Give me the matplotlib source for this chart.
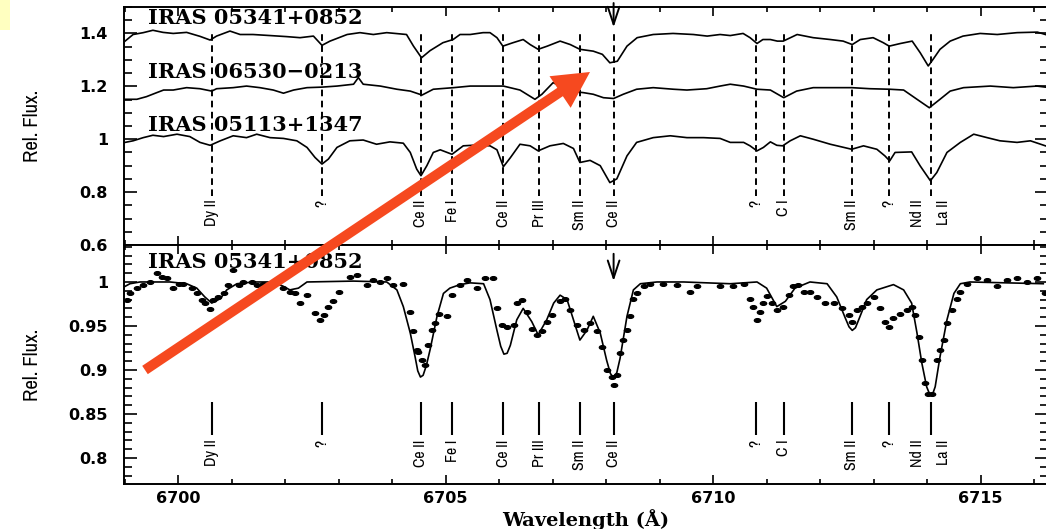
import numpy as np
import matplotlib
matplotlib.use('Agg')
import matplotlib.pyplot as plt
from matplotlib.ticker import MultipleLocator, FuncFormatter
from matplotlib.patches import FancyArrow, Rectangle
from matplotlib.path import Path
from matplotlib.markers import MarkerStyle
from matplotlib.transforms import Affine2D
from matplotlib import font_manager as fm

# ---------------- data ----------------
star_names = ["IRAS 05341+0852", "IRAS 06530\u22120213", "IRAS 05113+1347"]

wl1 = [6699.01, 6699.16, 6699.35, 6699.53, 6699.72, 6699.91, 6700.16, 6700.41, 6700.60, 6700.72,
       6700.97, 6701.16, 6701.40, 6701.72, 6702.03, 6702.28, 6702.53, 6702.69, 6702.84, 6703.16,
       6703.40, 6703.65, 6703.90, 6704.27, 6704.40, 6704.55, 6704.71, 6704.95, 6705.14, 6705.27,
       6705.46, 6705.70, 6705.83, 6705.96, 6706.07, 6706.26, 6706.45, 6706.58, 6706.73, 6706.90,
       6707.14, 6707.33, 6707.51, 6707.76, 6707.93, 6708.07, 6708.21, 6708.39, 6708.58, 6708.88,
       6709.25, 6709.63, 6709.89, 6710.13, 6710.32, 6710.56, 6710.69, 6710.82, 6710.93, 6711.07,
       6711.20, 6711.31, 6711.57, 6711.87, 6712.19, 6712.43, 6712.60, 6712.75, 6712.99, 6713.18,
       6713.29, 6713.50, 6713.72, 6713.87, 6714.02, 6714.11, 6714.24, 6714.43, 6714.67, 6714.99,
       6715.31, 6715.68, 6716.06, 6716.21]
fl1 = [1.371, 1.396, 1.403, 1.412, 1.404, 1.400, 1.404, 1.389, 1.375, 1.390,
       1.409, 1.396, 1.396, 1.392, 1.388, 1.384, 1.390, 1.355, 1.371, 1.396,
       1.403, 1.396, 1.403, 1.396, 1.352, 1.308, 1.335, 1.365, 1.377, 1.396,
       1.396, 1.403, 1.403, 1.384, 1.352, 1.365, 1.377, 1.358, 1.340, 1.352,
       1.371, 1.358, 1.340, 1.333, 1.321, 1.289, 1.295, 1.352, 1.384, 1.396,
       1.400, 1.396, 1.390, 1.396, 1.392, 1.400, 1.384, 1.362, 1.377, 1.377,
       1.371, 1.371, 1.396, 1.384, 1.377, 1.371, 1.358, 1.377, 1.384, 1.365,
       1.352, 1.362, 1.371, 1.327, 1.277, 1.302, 1.340, 1.371, 1.390, 1.400,
       1.396, 1.403, 1.405, 1.396]

wl2 = [6699.01, 6699.23, 6699.41, 6699.60, 6699.73, 6699.91, 6700.16, 6700.41, 6700.63, 6700.72,
       6701.03, 6701.28, 6701.53, 6701.78, 6701.97, 6702.16, 6702.41, 6702.69, 6702.97, 6703.28,
       6703.37, 6703.46, 6703.78, 6704.09, 6704.34, 6704.56, 6704.77, 6705.15, 6705.46, 6705.77,
       6706.08, 6706.39, 6706.67, 6706.80, 6707.01, 6707.33, 6707.58, 6707.76, 6707.95, 6708.14,
       6708.32, 6708.57, 6708.88, 6709.26, 6709.51, 6709.88, 6710.13, 6710.32, 6710.57, 6710.82,
       6711.07, 6711.32, 6711.56, 6711.87, 6712.19, 6712.59, 6712.93, 6713.30, 6713.56, 6713.81,
       6714.04, 6714.24, 6714.43, 6714.68, 6715.18, 6715.61, 6716.05, 6716.21]
fl2 = [1.151, 1.151, 1.161, 1.176, 1.186, 1.186, 1.195, 1.191, 1.182, 1.191,
       1.195, 1.201, 1.195, 1.186, 1.174, 1.186, 1.195, 1.197, 1.201, 1.208,
       1.233, 1.208, 1.201, 1.189, 1.182, 1.167, 1.189, 1.195, 1.201, 1.201,
       1.201, 1.186, 1.151, 1.170, 1.214, 1.182, 1.176, 1.170, 1.157, 1.154,
       1.170, 1.189, 1.195, 1.189, 1.186, 1.191, 1.201, 1.208, 1.201, 1.189,
       1.186, 1.157, 1.182, 1.195, 1.195, 1.195, 1.191, 1.189, 1.186, 1.151,
       1.119, 1.151, 1.182, 1.195, 1.201, 1.195, 1.201, 1.197]

wl3 = [6699.01, 6699.16, 6699.35, 6699.53, 6699.73, 6699.98, 6700.22, 6700.41, 6700.60, 6700.79,
       6701.03, 6701.28, 6701.47, 6701.72, 6701.97, 6702.22, 6702.41, 6702.56, 6702.69, 6702.81,
       6702.97, 6703.21, 6703.46, 6703.71, 6703.96, 6704.21, 6704.34, 6704.46, 6704.54, 6704.65,
       6704.77, 6704.90, 6705.12, 6705.33, 6705.58, 6705.83, 6705.96, 6706.08, 6706.21, 6706.39,
       6706.58, 6706.73, 6706.95, 6707.20, 6707.39, 6707.51, 6707.70, 6707.89, 6708.07, 6708.20,
       6708.39, 6708.57, 6708.88, 6709.20, 6709.51, 6709.82, 6710.13, 6710.32, 6710.57, 6710.69,
       6710.82, 6710.94, 6711.07, 6711.19, 6711.30, 6711.44, 6711.63, 6711.87, 6712.19, 6712.59,
       6712.81, 6713.06, 6713.21, 6713.30, 6713.40, 6713.71, 6713.87, 6714.06, 6714.18, 6714.37,
       6714.62, 6714.87, 6715.12, 6715.36, 6715.68, 6715.93, 6716.21]
fl3 = [0.988, 0.994, 1.006, 1.015, 1.010, 1.019, 1.010, 0.988, 0.977, 0.994,
       1.013, 1.006, 1.019, 1.006, 1.003, 0.994, 0.969, 0.931, 0.906, 0.925,
       0.969, 0.994, 0.997, 0.981, 0.990, 0.985, 0.950, 0.887, 0.862, 0.900,
       0.950, 0.960, 0.943, 0.975, 0.978, 0.975, 0.960, 0.896, 0.930, 0.981,
       0.975, 0.956, 0.975, 0.984, 0.965, 0.912, 0.920, 0.900, 0.836, 0.850,
       0.937, 0.988, 1.006, 1.013, 1.006, 1.006, 1.003, 0.988, 0.988, 0.975,
       0.956, 0.969, 0.990, 0.977, 0.975, 0.994, 1.013, 1.000, 0.981, 0.962,
       0.975, 0.962, 0.937, 0.918, 0.950, 0.952, 0.899, 0.843, 0.874, 0.950,
       0.988, 1.019, 1.006, 0.994, 0.988, 0.994, 0.975]

obs_wl = [6699.04, 6699.10, 6699.23, 6699.35, 6699.48, 6699.60, 6699.70, 6699.79, 6699.91, 6700.01,
          6700.10, 6700.26, 6700.35, 6700.44, 6700.50, 6700.60, 6700.66, 6700.75, 6700.85, 6700.94,
          6701.03, 6701.13, 6701.22, 6701.38, 6701.47, 6701.59, 6701.78, 6701.97, 6702.09, 6702.19,
          6702.28, 6702.41, 6702.56, 6702.65, 6702.72, 6702.81, 6702.90, 6703.00, 6703.21, 6703.34,
          6703.53, 6703.65, 6703.78, 6703.90, 6704.02, 6704.21, 6704.34, 6704.40, 6704.46, 6704.49,
          6704.56, 6704.62, 6704.68, 6704.74, 6704.80, 6704.87, 6705.02, 6705.12, 6705.27, 6705.40,
          6705.58, 6705.74, 6705.89, 6705.96, 6706.05, 6706.14, 6706.27, 6706.33, 6706.42, 6706.52,
          6706.61, 6706.70, 6706.80, 6706.89, 6706.99, 6707.14, 6707.23, 6707.33, 6707.45, 6707.58,
          6707.70, 6707.83, 6707.92, 6708.01, 6708.11, 6708.14, 6708.20, 6708.26, 6708.32, 6708.39,
          6708.45, 6708.51, 6708.57, 6708.70, 6708.82, 6709.07, 6709.32, 6709.57, 6709.70, 6710.13,
          6710.38, 6710.57, 6710.69, 6710.75, 6710.82, 6710.88, 6710.94, 6711.00, 6711.10, 6711.19,
          6711.31, 6711.41, 6711.50, 6711.59, 6711.69, 6711.81, 6711.94, 6712.09, 6712.25, 6712.41,
          6712.53, 6712.59, 6712.69, 6712.78, 6712.87, 6713.00, 6713.12, 6713.22, 6713.28, 6713.37,
          6713.50, 6713.62, 6713.71, 6713.78, 6713.84, 6713.90, 6713.96, 6714.02, 6714.09, 6714.18,
          6714.24, 6714.31, 6714.37, 6714.46, 6714.56, 6714.62, 6714.74, 6714.93, 6715.12, 6715.30,
          6715.49, 6715.68, 6715.86, 6716.05, 6716.21]
obs_fl = [0.980, 0.987, 0.993, 0.997, 1.000, 1.010, 1.006, 1.004, 0.993, 0.998,
          0.998, 0.993, 0.987, 0.980, 0.976, 0.969, 0.980, 0.983, 0.987, 0.997,
          1.014, 0.997, 1.000, 1.000, 0.997, 0.998, 0.998, 0.993, 0.989, 0.987,
          0.976, 0.985, 0.965, 0.957, 0.963, 0.972, 0.978, 0.989, 1.006, 1.008,
          0.997, 1.002, 1.000, 1.004, 0.997, 0.998, 0.966, 0.944, 0.923, 0.921,
          0.911, 0.906, 0.928, 0.945, 0.953, 0.964, 0.961, 0.985, 0.997, 1.002,
          0.993, 1.004, 1.004, 0.970, 0.951, 0.949, 0.951, 0.976, 0.980, 0.966,
          0.947, 0.940, 0.944, 0.955, 0.963, 0.978, 0.981, 0.968, 0.951, 0.945,
          0.953, 0.944, 0.926, 0.900, 0.892, 0.883, 0.894, 0.919, 0.934, 0.945,
          0.961, 0.981, 0.987, 0.995, 0.998, 0.998, 0.997, 0.989, 0.995, 0.995,
          0.995, 0.998, 0.981, 0.972, 0.957, 0.966, 0.976, 0.984, 0.976, 0.968,
          0.972, 0.985, 0.995, 0.997, 0.989, 0.989, 0.983, 0.976, 0.976, 0.970,
          0.963, 0.955, 0.968, 0.972, 0.976, 0.983, 0.970, 0.955, 0.949, 0.959,
          0.964, 0.968, 0.972, 0.963, 0.938, 0.911, 0.885, 0.873, 0.873, 0.911,
          0.923, 0.934, 0.953, 0.968, 0.981, 0.989, 0.998, 1.004, 1.002, 0.995,
          1.002, 1.004, 1.000, 1.004, 0.987]

syn_wl = [6699.01, 6699.10, 6699.29, 6699.85, 6700.16, 6700.35, 6700.50, 6700.63, 6700.79, 6700.91,
          6701.10, 6701.41, 6701.78, 6701.97, 6702.09, 6702.25, 6702.41, 6703.28, 6703.90, 6704.09,
          6704.21, 6704.34, 6704.43, 6704.48, 6704.53, 6704.58, 6704.64, 6704.71, 6704.84, 6704.96,
          6705.08, 6705.27, 6705.46, 6705.71, 6705.83, 6705.96, 6706.03, 6706.09, 6706.15, 6706.21,
          6706.33, 6706.45, 6706.61, 6706.73, 6706.89, 6707.02, 6707.14, 6707.27, 6707.39, 6707.51,
          6707.64, 6707.76, 6707.89, 6708.01, 6708.08, 6708.14, 6708.20, 6708.26, 6708.39, 6708.51,
          6708.64, 6708.95, 6709.45, 6710.32, 6710.82, 6711.00, 6711.19, 6711.35, 6711.53, 6711.81,
          6712.13, 6712.31, 6712.47, 6712.54, 6712.60, 6712.66, 6712.72, 6712.87, 6713.06, 6713.37,
          6713.56, 6713.71, 6713.81, 6713.90, 6713.99, 6714.03, 6714.07, 6714.11, 6714.15, 6714.24,
          6714.37, 6714.50, 6714.62, 6714.80, 6716.17]
syn_fl = [0.995, 0.998, 1.000, 1.000, 0.998, 0.993, 0.983, 0.976, 0.981, 0.991,
          0.998, 1.000, 1.000, 0.995, 0.991, 0.993, 1.000, 1.001, 1.000, 0.991,
          0.972, 0.942, 0.915, 0.899, 0.892, 0.894, 0.905, 0.923, 0.961, 0.987,
          0.993, 0.997, 0.999, 0.998, 0.980, 0.945, 0.927, 0.918, 0.919, 0.928,
          0.957, 0.970, 0.955, 0.940, 0.957, 0.976, 0.985, 0.980, 0.957, 0.934,
          0.945, 0.961, 0.942, 0.911, 0.896, 0.891, 0.897, 0.913, 0.961, 0.991,
          0.998, 1.000, 1.000, 0.998, 1.000, 0.993, 0.972, 0.978, 0.993, 1.000,
          0.998, 0.983, 0.959, 0.949, 0.945, 0.948, 0.957, 0.980, 0.991, 0.997,
          0.991, 0.976, 0.942, 0.908, 0.881, 0.875, 0.872, 0.874, 0.881, 0.915,
          0.957, 0.987, 0.998, 1.000, 0.998]

line_wl = [6700.63, 6702.69, 6704.54, 6705.12, 6706.08, 6706.75, 6707.51, 6708.14,
           6710.80, 6711.32, 6712.59, 6713.29, 6714.07]
line_labels = [["Dy II"], ["?"], ["Ce II"], ["Fe I"], ["Ce II"], ["Pr III"], ["Sm II"], ["Ce II"],
               ["?"], ["C I"], ["Sm II"], ["?"], ["Nd II", "La II"]]
marked_wl = 6708.14


# ---------------- fonts ----------------
def narrow_font(size):
    best = None
    prefs = [('narrow', None), ('condensed', 'semi-condensed'), ('semi-condensed', None)]
    for f in fm.fontManager.ttflist:
        nm = f.name.lower()
        st = str(f.stretch).lower()
        fn = f.fname.lower()
        if f.weight not in (400, 'normal', 'regular', 'book') or f.style != 'normal':
            continue
        rank = None
        if 'narrow' in nm or 'narrow' in fn:
            rank = 0
        elif st == 'condensed' or ('condensed' in fn and 'semi' not in fn and 'extra' not in fn):
            rank = 1
        elif st == 'semi-condensed' or 'semicondensed' in fn:
            rank = 2
        if rank is not None and (best is None or rank < best[0]):
            best = (rank, f.fname)
    if best is not None:
        return fm.FontProperties(fname=best[1], size=size)
    return fm.FontProperties(family='DejaVu Sans', size=size * 0.9)


# ---------------- figure ----------------
W, H = 1046, 529
fig = plt.figure(figsize=(W / 100, H / 100), dpi=100)
fig.patch.set_facecolor('white')

L = 124 / W
Rr = 1.002
ax1 = fig.add_axes([L, 1 - 245 / H, Rr - L, (245 - 7) / H])
ax2 = fig.add_axes([L, 1 - 484 / H, Rr - L, (484 - 245) / H])

fmt = FuncFormatter(lambda v, p: f'{v:g}')
ylab_font = narrow_font(15)
elem_font = narrow_font(11.5)

for ax in (ax1, ax2):
    ax.set_xlim(6698.99, 6716.26)
    ax.xaxis.set_major_locator(MultipleLocator(5))
    ax.xaxis.set_minor_locator(MultipleLocator(1))
    ax.yaxis.set_major_formatter(fmt)
    ax.tick_params(which='both', direction='in', top=True, right=True, width=1.2,
                   labelsize=11.5, colors='black')
    ax.tick_params(axis='x', which='major', length=6.5, pad=5)
    ax.tick_params(axis='x', which='minor', length=3.6)
    ax.tick_params(axis='y', which='major', length=9.5, pad=11.5)
    ax.tick_params(axis='y', which='minor', length=5.8)
    for s in ax.spines.values():
        s.set_linewidth(1.4)
    for lab in ax.get_yticklabels() + ax.get_xticklabels():
        lab.set_fontweight('bold')
    ax.set_ylabel('Rel. Flux.', fontproperties=ylab_font)
    ax.yaxis.set_label_coords(-82 / ((Rr - L) * W), 0.5)

# top panel
ax1.set_ylim(0.6, 1.5)
ax1.yaxis.set_major_locator(MultipleLocator(0.2))
ax1.yaxis.set_minor_locator(MultipleLocator(0.05))
ax1.tick_params(axis='x', labelbottom=False)
for wl, fl in ((wl1, fl1), (wl2, fl2), (wl3, fl3)):
    ax1.plot(wl, fl, color='black', lw=1.2)
ax1.vlines(line_wl, 0.785, 1.40, colors='black', lw=1.4, linestyles=(0, (3.4, 2.3)))
for name, yv in zip(star_names, [1.457, 1.253, 1.053]):
    ax1.text(6699.44, yv, name, family='DejaVu Serif', fontweight='bold', fontsize=15,
             va='center', ha='left')
ax1.annotate('', xy=(marked_wl, 1.423), xytext=(marked_wl, 1.515), annotation_clip=False,
             arrowprops=dict(arrowstyle='->,head_length=0.9,head_width=0.3', lw=1.4,
                             color='black', shrinkA=0, shrinkB=0, mutation_scale=14))

# bottom panel
ax2.set_ylim(0.7705, 1.042)
ax2.yaxis.set_major_locator(MultipleLocator(0.05))
ax2.yaxis.set_minor_locator(MultipleLocator(0.01))
ellipse = Path.unit_circle().transformed(Affine2D().scale(1.7, 1.0))
ax2.plot(obs_wl, obs_fl, ls='none', marker=MarkerStyle(ellipse), ms=4.5, color='black')
ax2.plot(syn_wl, syn_fl, color='black', lw=1.2)
ax2.vlines(line_wl, 0.826, 0.864, colors='black', lw=1.5)
ax2.text(6699.44, 1.023, star_names[0], family='DejaVu Serif', fontweight='bold', fontsize=15,
         va='center', ha='left')
ax2.annotate('', xy=(marked_wl, 1.001), xytext=(marked_wl, 1.032), annotation_clip=False,
             arrowprops=dict(arrowstyle='->,head_length=0.9,head_width=0.3', lw=1.4,
                             color='black', shrinkA=0, shrinkB=0, mutation_scale=14))
ax2.set_xlabel('Wavelength (\u00c5)', family='DejaVu Serif', fontweight='bold', fontsize=14,
               labelpad=2)

# element labels
for wl, labs in zip(line_wl, line_labels):
    offs = [0] if len(labs) == 1 else [-10, 9]
    for lab, dx in zip(labs, offs):
        ax1.annotate(lab, xy=(wl, 0.772), xytext=(dx, 0), textcoords='offset points',
                     rotation=90, ha='center', va='top', fontproperties=elem_font)
        ax2.annotate(lab, xy=(wl, 0.821), xytext=(dx, 0), textcoords='offset points',
                     rotation=90, ha='center', va='top', fontproperties=elem_font)

# overlay decorations (presentation annotations)
fig.add_artist(Rectangle((0, 4.99), 0.10, 0.30, transform=fig.dpi_scale_trans,
                         facecolor='#FFFFC0', edgecolor='none'))
fig.add_artist(FancyArrow(1.45, 1.59, 4.45, 2.98, width=0.10, head_width=0.38,
                          head_length=0.36, length_includes_head=True,
                          transform=fig.dpi_scale_trans, color='#F6491F', lw=0))

fig.savefig('out.png', dpi=100)
